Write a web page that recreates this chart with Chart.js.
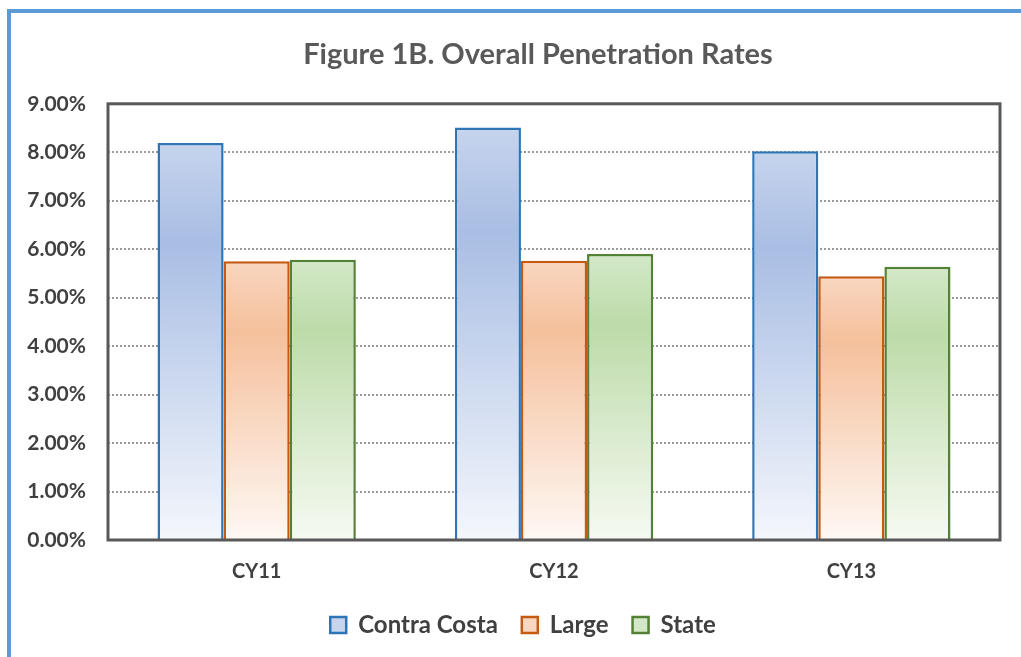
<!DOCTYPE html>
<html lang="en">
<head>
    <meta charset="UTF-8">
    <title>Figure 1B. Overall Penetration Rates</title>
    <script src="https://cdn.jsdelivr.net/npm/chart.js"></script>
    <style>
        body {
            margin: 0;
            background: #ffffff;
            width: 1021px;
            height: 657px;
            overflow: hidden;
            position: relative;
        }

        .frame {
            position: absolute;
            left: 7px;
            top: 9px;
            width: 1100px;
            height: 700px;
            border-left: 4px solid #5b9bd5;
            border-top: 4px solid #5b9bd5;
        }

        canvas {
            position: absolute;
            left: 0;
            top: 0;
        }
    </style>
</head>
<body>
    <div class="frame"></div>
    <canvas id="penetrationChart" width="1021" height="657"></canvas>

    <script>
        // Data (percent)
        var years = ['CY11', 'CY12', 'CY13'];
        var contraCosta = [8.19, 8.51, 8.02];
        var large = [5.75, 5.76, 5.44];
        var state = [5.78, 5.90, 5.64];
        var yTicks = [0, 1, 2, 3, 4, 5, 6, 7, 8, 9];

        var fontFamily = 'Lato, "Open Sans", sans-serif';

        // gradient stops per series: top, darkest, bottom
        var blueStops = ['#c6d4ed', '#a9bee4', '#f4f7fc'];
        var orangeStops = ['#f9d6c0', '#f5c09c', '#fef8f4'];
        var greenStops = ['#d3e8c8', '#bddba9', '#f6faf2'];

        var seriesStops = [blueStops, orangeStops, greenStops];

        // Each bar gets its own vertical gradient, like the Excel fill
        function barGradient(stops) {
            return function (ctx) {
                var chart = ctx.chart;
                if (!chart.chartArea || ctx.type !== 'data') {
                    return stops[1];
                }
                var y = chart.scales.y;
                var top = y.getPixelForValue(ctx.raw);
                var bottom = y.getPixelForValue(0);
                var g = chart.ctx.createLinearGradient(0, top, 0, bottom);
                g.addColorStop(0, stops[0]);
                g.addColorStop(0.25, stops[1]);
                g.addColorStop(1, stops[2]);
                return g;
            };
        }

        // Frame round the plot area
        var plotFrame = {
            id: 'plotFrame',
            afterLayout: function (chart) {
                // title and legend sit a little right of centre in the original
                if (chart.legend) {
                    chart.legend.left += 23;
                    chart.legend.right += 23;
                }
                if (chart.titleBlock) {
                    chart.titleBlock.left += 38;
                    chart.titleBlock.right += 38;
                }
            },
            afterDatasetsDraw: function (chart) {
                var a = chart.chartArea;
                var c = chart.ctx;
                c.save();
                c.strokeStyle = '#595959';
                c.lineWidth = 3;
                c.strokeRect(a.left, a.top, a.right - a.left, a.bottom - a.top);
                c.restore();
            }
        };

        var data = {
            labels: years,
            datasets: [
                {
                    label: 'Contra Costa',
                    data: contraCosta,
                    backgroundColor: barGradient(blueStops),
                    borderColor: '#2e75b6',
                    borderWidth: 2.5
                },
                {
                    label: 'Large',
                    data: large,
                    backgroundColor: barGradient(orangeStops),
                    borderColor: '#c55a11',
                    borderWidth: 2.5
                },
                {
                    label: 'State',
                    data: state,
                    backgroundColor: barGradient(greenStops),
                    borderColor: '#538135',
                    borderWidth: 2.5
                }
            ]
        };

        var config = {
            type: 'bar',
            data: data,
            plugins: [plotFrame],
            options: {
                responsive: false,
                animation: false,
                datasets: {
                    bar: {
                        barPercentage: 1,
                        categoryPercentage: 0.667
                    }
                },
                layout: {
                    padding: { left: 0, right: 21, top: 37, bottom: 10 }
                },
                scales: {
                    x: {
                        grid: { display: false, drawTicks: false },
                        border: { display: false },
                        ticks: {
                            padding: 20,
                            color: '#404040',
                            font: { family: fontFamily, size: 20, weight: 'bold' }
                        },
                        afterFit: function (scale) {
                            scale.height = 49;
                        }
                    },
                    y: {
                        min: 0,
                        max: 9,
                        afterBuildTicks: function (scale) {
                            scale.ticks = yTicks.map(function (v) { return { value: v }; });
                        },
                        grid: {
                            color: '#9a9a9a',
                            lineWidth: 2,
                            drawTicks: false
                        },
                        border: { display: false, dash: [2, 2] },
                        ticks: {
                            padding: 22,
                            color: '#404040',
                            font: { family: fontFamily, size: 21, weight: 'bold' },
                            callback: function (v) { return Number(v).toFixed(2) + '%'; }
                        },
                        afterFit: function (scale) {
                            scale.width = 108;
                        }
                    }
                },
                plugins: {
                    title: {
                        display: true,
                        text: 'Figure 1B. Overall Penetration Rates',
                        color: '#595959',
                        font: { family: fontFamily, size: 29, weight: 'bold' },
                        padding: { top: 0, bottom: 32 }
                    },
                    legend: {
                        position: 'bottom',
                        labels: {
                            boxWidth: 16,
                            boxHeight: 16,
                            padding: 24,
                            color: '#404040',
                            font: { family: fontFamily, size: 24, weight: 'bold' },
                            generateLabels: function (chart) {
                                return chart.data.datasets.map(function (ds, i) {
                                    return {
                                        text: ds.label,
                                        fillStyle: seriesStops[i][0],
                                        strokeStyle: ds.borderColor,
                                        lineWidth: 2.5,
                                        fontColor: '#404040',
                                        datasetIndex: i,
                                        hidden: false
                                    };
                                });
                            }
                        }
                    },
                    tooltip: { enabled: false }
                }
            }
        };

        var penetrationCtx = document.getElementById('penetrationChart').getContext('2d');
        var penetrationChart = new Chart(penetrationCtx, config);
    </script>
</body>
</html>
